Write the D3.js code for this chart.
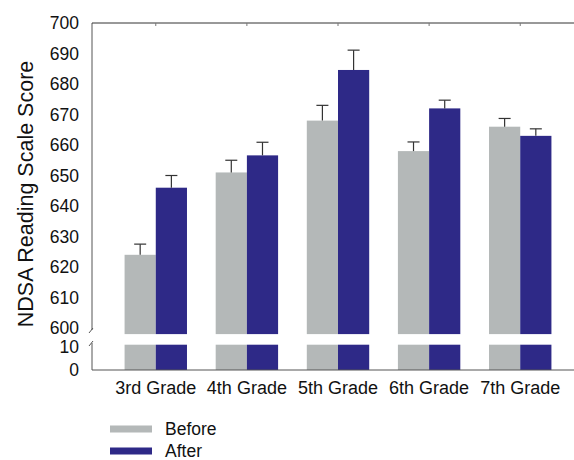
<!DOCTYPE html>
<html>
<head>
<meta charset="utf-8">
<script src="https://cdn.jsdelivr.net/npm/d3@7"></script>
<style>
  html, body { margin: 0; padding: 0; background: #fff; }
  svg { display: block; font-family: "Liberation Sans", Arial, sans-serif; }
</style>
</head>
<body>
<svg id="chart" width="574" height="460"></svg>
<script>
// Reading scale scores by grade, before and after
const grades = ["3rd Grade", "4th Grade", "5th Grade", "6th Grade", "7th Grade"];
const seriesNames = ["Before", "After"];
const beforeValues = [624, 651, 668, 658, 666];
const afterValues = [646, 656.6, 684.6, 672, 663];
const beforeErrors = [3.5, 4, 5, 3, 2.7];
const afterErrors = [4, 4.3, 6.5, 2.7, 2.3];
const upperTicks = [600, 610, 620, 630, 640, 650, 660, 670, 680, 690, 700];
const lowerTicks = [0, 10];
const colors = ["#b4b8b8", "#2e2987"];

const svg = d3.select("#chart");
const plotLeft = 92, plotRight = 584, plotBottom = 370, plotTop = 23;
const fontFamily = "'Liberation Sans', Arial, sans-serif";

const x = d3.scaleBand().domain(grades).range([plotLeft, plotRight]).paddingInner(0).paddingOuter(0.2);
const xs = d3.scaleBand().domain(seriesNames).range([0, x.bandwidth()]).paddingInner(0).paddingOuter(0.46);

// broken value axis: upper segment 598..700, lower segment 0..11
const yUp = d3.scaleLinear().domain([600, 700]).range([328, plotTop]);
const yLow = d3.scaleLinear().domain([0, 10]).range([plotBottom, 347]);
const upperBase = 598, lowerTop = 11;

const rows = grades.map((g, i) => ({
  grade: g,
  vals: [
    { s: "Before", v: beforeValues[i], e: beforeErrors[i] },
    { s: "After", v: afterValues[i], e: afterErrors[i] }
  ]
}));

const grp = svg.append("g").selectAll("g").data(rows).join("g")
  .attr("transform", d => `translate(${x(d.grade)},0)`);

// upper bar segments
grp.selectAll("rect.up").data(d => d.vals).join("rect")
  .attr("class", "up")
  .attr("x", d => xs(d.s)).attr("width", xs.bandwidth())
  .attr("y", d => yUp(d.v)).attr("height", d => yUp(upperBase) - yUp(d.v))
  .attr("fill", (d, i) => colors[i]);

// lower bar segments
grp.selectAll("rect.low").data(d => d.vals).join("rect")
  .attr("class", "low")
  .attr("x", d => xs(d.s)).attr("width", xs.bandwidth())
  .attr("y", yLow(lowerTop)).attr("height", yLow(0) - yLow(lowerTop))
  .attr("fill", (d, i) => colors[i]);

// upward error bars
const eb = grp.selectAll("g.err").data(d => d.vals).join("g").attr("class", "err")
  .attr("stroke", "#333").attr("stroke-width", 1.2);
eb.append("line")
  .attr("x1", d => xs(d.s) + xs.bandwidth() / 2).attr("x2", d => xs(d.s) + xs.bandwidth() / 2)
  .attr("y1", d => yUp(d.v)).attr("y2", d => yUp(d.v + d.e));
eb.append("line")
  .attr("x1", d => xs(d.s) + xs.bandwidth() / 2 - 6).attr("x2", d => xs(d.s) + xs.bandwidth() / 2 + 6)
  .attr("y1", d => yUp(d.v + d.e)).attr("y2", d => yUp(d.v + d.e));

// axes
const axisColor = "#555";
const yAxisUp = svg.append("g").attr("transform", `translate(${plotLeft},0)`)
  .call(d3.axisLeft(yUp).tickValues(upperTicks).tickSize(0).tickPadding(13));
yAxisUp.select(".domain").attr("d", `M0,${plotTop}V330`).attr("stroke", axisColor);
const yAxisLow = svg.append("g").attr("transform", `translate(${plotLeft},0)`)
  .call(d3.axisLeft(yLow).tickValues(lowerTicks).tickSize(0).tickPadding(13));
yAxisLow.select(".domain").attr("d", `M0,343V${plotBottom}`).attr("stroke", axisColor);
svg.selectAll(".tick text").attr("font-size", 17.5).attr("fill", "#111")
  .attr("font-family", fontFamily);

// axis break marks
svg.append("path").attr("d", `M${plotLeft - 3},333 L${plotLeft + 1},328 M${plotLeft - 3},346 L${plotLeft + 1},341`)
  .attr("stroke", axisColor).attr("fill", "none");

// bottom axis with category labels
const xAxis = svg.append("g").attr("transform", `translate(0,${plotBottom})`)
  .call(d3.axisBottom(x).tickSize(0).tickPadding(11));
xAxis.select(".domain").attr("d", `M${plotLeft},0H574`).attr("stroke", axisColor);
xAxis.selectAll("text").attr("font-size", 18).attr("fill", "#111")
  .attr("font-family", fontFamily);

// top frame line with small inward ticks
const xTop = svg.append("g").attr("transform", `translate(0,${plotTop})`)
  .call(d3.axisTop(x).tickSize(-3).tickFormat(""));
xTop.select(".domain").attr("d", `M${plotLeft},0H574`).attr("stroke", "#333");
xTop.selectAll(".tick line").attr("stroke", "#777");

// y axis title
svg.append("text")
  .attr("transform", "translate(33,194) rotate(-90)")
  .attr("text-anchor", "middle")
  .attr("font-size", 21.5).attr("fill", "#111")
  .text("NDSA Reading Scale Score");

// legend
const legend = svg.append("g").selectAll("g").data(seriesNames).join("g")
  .attr("transform", (d, i) => `translate(110,${429 + i * 22})`);
legend.append("rect").attr("x", 0).attr("y", -3.5).attr("width", 42).attr("height", 7)
  .attr("fill", (d, i) => colors[i]);
legend.append("text").attr("x", 55).attr("y", 5.5).attr("font-size", 17.5).attr("fill", "#111")
  .text(d => d);
</script>
</body>
</html>
